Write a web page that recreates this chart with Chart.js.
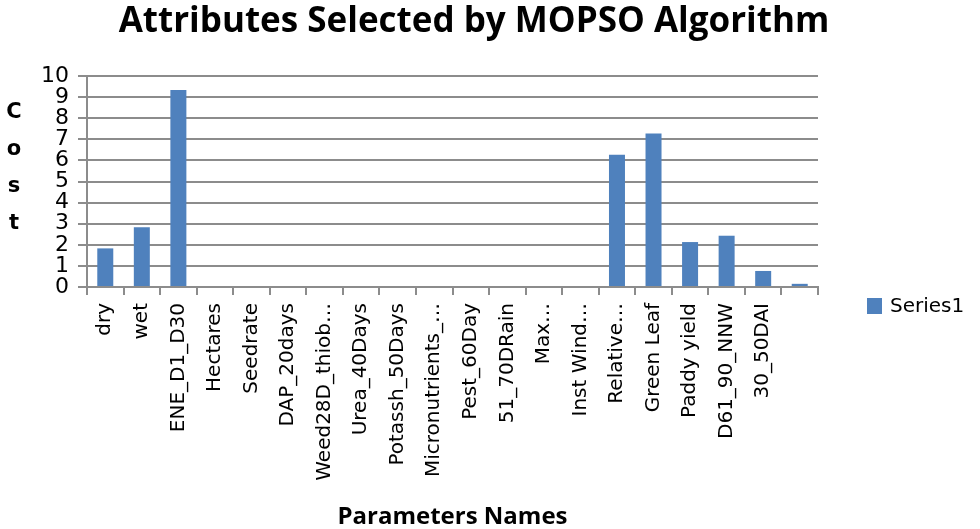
<!DOCTYPE html>
<html>
<head>
<meta charset="utf-8">
<title>Attributes Selected by MOPSO Algorithm</title>
<script src="https://cdn.jsdelivr.net/npm/chart.js@4.4.1/dist/chart.umd.min.js"></script>
<style>
    html, body { margin: 0; padding: 0; background: #fff; }
    #wrap { width: 980px; height: 529px; position: relative; }
</style>
</head>
<body>
<div id="wrap"><canvas id="mopsoChart"></canvas></div>
<script>
    'use strict';

    const categories = [
        'dry', 'wet', 'ENE_D1_D30', 'Hectares', 'Seedrate', 'DAP_20days',
        'Weed28D_thiob\u2026', 'Urea_40Days', 'Potassh_50Days', 'Micronutrients_\u2026',
        'Pest_60Day', '51_70DRain', 'Max\u2026', 'Inst Wind\u2026', 'Relative\u2026',
        'Green Leaf', 'Paddy yield', 'D61_90_NNW', '30_50DAI', ''
    ];
    const series1 = [
        1.83, 2.83, 9.34, 0, 0, 0,
        0, 0, 0, 0,
        0, 0, 0, 0, 6.27,
        7.28, 2.13, 2.43, 0.76, 0.15
    ];
    const yTicks = [0, 1, 2, 3, 4, 5, 6, 7, 8, 9, 10];
    const yAxisLetters = ['C', 'o', 's', 't'];

    const GRID = '#8c8c8c';
    const BAR = '#4f81bd';

    // y-axis title as stacked letters + a simple right side legend
    const extrasPlugin = {
        id: 'extras',
        afterDraw: function (chart) {
            const ctx = chart.ctx;
            ctx.save();
            ctx.fillStyle = '#000';
            ctx.font = 'bold 21px "DejaVu Sans"';
            ctx.textAlign = 'center';
            ctx.textBaseline = 'middle';
            yAxisLetters.forEach(function (ch, i) {
                ctx.fillText(ch, 14, 113 + i * 37);
            });

            const ds = chart.data.datasets[0];
            ctx.fillStyle = ds.backgroundColor;
            ctx.fillRect(867, 298, 15, 16);
            ctx.fillStyle = '#000';
            ctx.font = '20px "DejaVu Sans"';
            ctx.textAlign = 'left';
            ctx.fillText(ds.label, 890, 307);
            ctx.restore();
        }
    };

    new Chart(document.getElementById('mopsoChart'), {
        type: 'bar',
        data: {
            labels: categories,
            datasets: [{
                label: 'Series1',
                data: series1,
                backgroundColor: BAR,
                borderWidth: 0,
                inflateAmount: 0,
                barThickness: 16
            }]
        },
        options: {
            responsive: true,
            maintainAspectRatio: false,
            animation: false,
            layout: { padding: { left: 0, right: 32, top: 0, bottom: 0 } },
            plugins: {
                legend: { display: false },
                tooltip: { enabled: false },
                title: {
                    display: true,
                    text: 'Attributes Selected by MOPSO Algorithm',
                    color: '#000',
                    font: { family: '"Open Sans"', size: 35, weight: 'bold' },
                    padding: { top: 1, bottom: 33 }
                }
            },
            scales: {
                x: {
                    offset: true,
                    afterFit: function (scale) { scale.height = 242; },
                    grid: {
                        offset: true,
                        drawOnChartArea: false,
                        drawTicks: true,
                        tickLength: 8,
                        color: GRID,
                        lineWidth: 2
                    },
                    border: { display: true, color: GRID, width: 2 },
                    ticks: {
                        autoSkip: false,
                        maxRotation: 90,
                        minRotation: 90,
                        padding: 8,
                        color: '#000',
                        font: { family: '"DejaVu Sans"', size: 20 }
                    },
                    title: {
                        display: true,
                        text: 'Parameters Names',
                        color: '#000',
                        font: { family: '"Open Sans"', size: 24, weight: 'bold', lineHeight: 1 },
                        padding: { top: 0, bottom: 0 }
                    }
                },
                y: {
                    min: yTicks[0],
                    max: yTicks[yTicks.length - 1],
                    afterFit: function (scale) { scale.width = 87; },
                    afterBuildTicks: function (scale) {
                        scale.ticks = yTicks.map(function (v) { return { value: v }; });
                    },
                    grid: { color: GRID, lineWidth: 2, tickLength: 9 },
                    border: { display: true, color: GRID, width: 2 },
                    ticks: {
                        autoSkip: false,
                        padding: 9,
                        color: '#000',
                        font: { family: '"DejaVu Sans"', size: 22 }
                    }
                },
                yr: {
                    type: 'linear',
                    position: 'right',
                    min: 0,
                    max: 1,
                    afterFit: function (scale) { scale.width = 130; },
                    grid: { display: false },
                    border: { display: false },
                    ticks: { display: false }
                }
            }
        },
        plugins: [extrasPlugin]
    });
</script>
</body>
</html>
